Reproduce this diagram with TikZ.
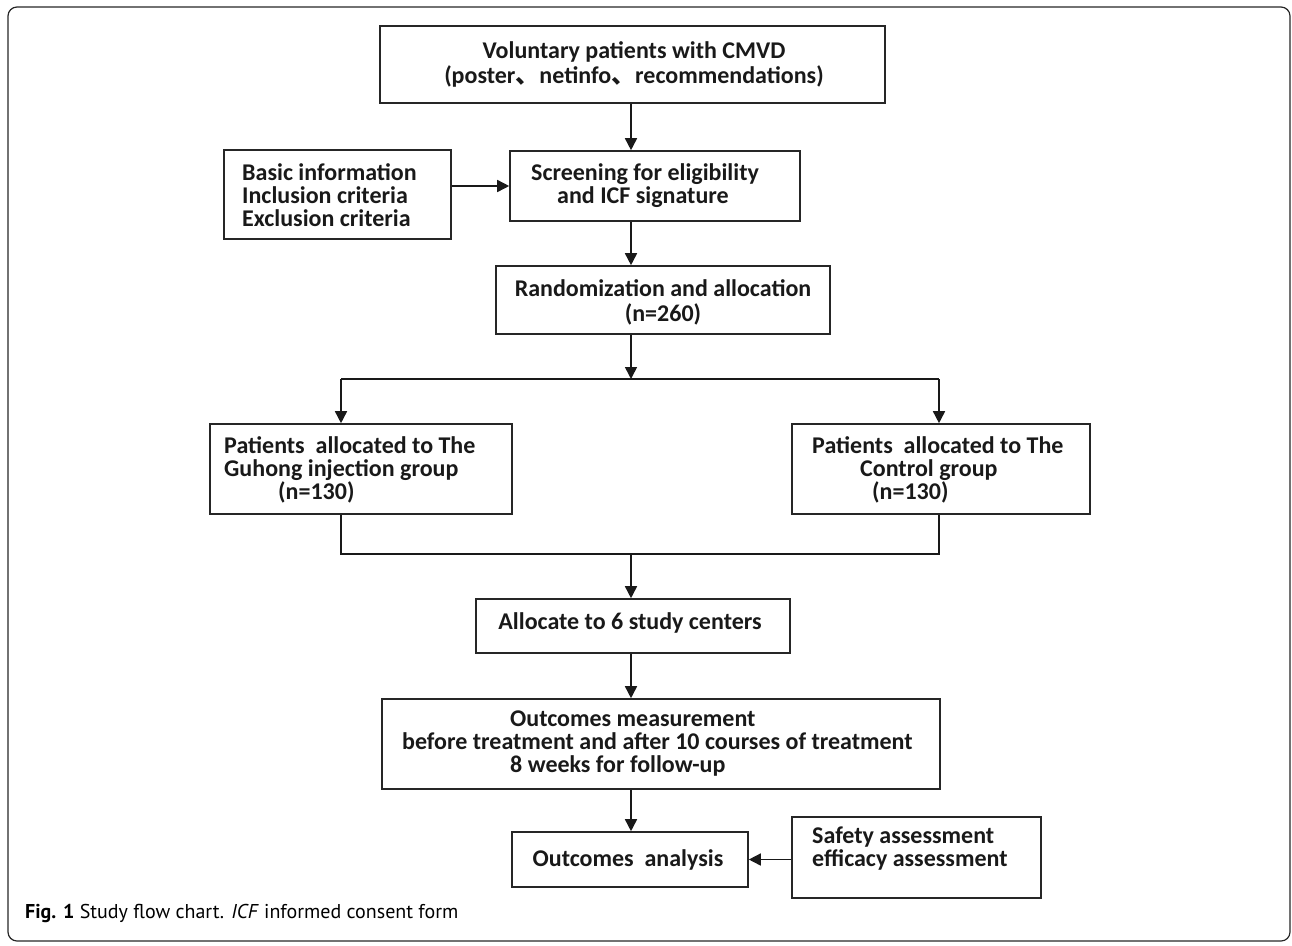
\documentclass[tikz,border=0pt]{standalone}
\usepackage{fontspec}
\setmainfont{Carlito}
\newfontfamily\capfont{PT Sans}
\newfontfamily\cjk{Noto Sans CJK SC}
\usetikzlibrary{arrows.meta}
\begin{document}
\begin{tikzpicture}[x=1pt,y=-1pt,
  box/.style={draw=black!85, line width=1.6pt, inner sep=0pt, rectangle},
  txt/.style={font=\fontsize{24}{23}\selectfont\bfseries, inner sep=0pt, text=black!90},
  arr/.style={draw=black!90, line width=1.6pt, -{Triangle[length=12pt,width=12pt]}},
  ln/.style={draw=black!90, line width=1.6pt}]
\useasboundingbox (0,0) rectangle (1292,945);
\draw[line width=1.2pt, draw=black!85, rounded corners=9pt] (8,7) rectangle (1290,941);

% axes
\coordinate (ax) at (631,0);
\coordinate (lx) at (341,0);
\coordinate (rx) at (939,0);
\coordinate (ay) at (0,186);

% boxes
\node[box, minimum width=505pt, minimum height=77pt] (b1) at (632.5,64.5) {};
\node[box, minimum width=227pt, minimum height=89pt] (basic) at (337.5,194.5) {};
\node[box, minimum width=290pt, minimum height=70pt] (scr) at (655,186) {};
\node[box, minimum width=334pt, minimum height=68pt] (rand) at (663,300) {};
\node[box, minimum width=302pt, minimum height=90pt] (lg) at (361,469) {};
\node[box, minimum width=298pt, minimum height=90pt] (rg) at (941,469) {};
\node[box, minimum width=314pt, minimum height=54pt] (alloc) at (633,626) {};
\node[box, minimum width=558pt, minimum height=90pt] (meas) at (661,744) {};
\node[box, minimum width=236pt, minimum height=55pt] (an) at (630,859.5) {};
\node[box, minimum width=249pt, minimum height=81pt] (safe) at (916.5,857.5) {};

% texts
\node[txt, align=center, font=\fontsize{24}{25}\selectfont\bfseries] (t1) at (634,64.5)
  {Voluntary patients with CMVD\\(poster{\cjk 、}netinfo{\cjk 、}recommendations)};
\node[txt, align=left, anchor=west] (tbasic) at (242,195)
  {Basic information\\Inclusion criteria\\Exclusion criteria};
\node[txt, align=left, anchor=west] (tscr) at (531,185.5)
  {Screening for eligibility\\\hspace*{26pt}and ICF signature};
\node[txt, align=center, font=\fontsize{24}{25}\selectfont\bfseries] (trand) at (663,302)
  {Randomization and allocation\\(n=260)};
\node[txt, align=left, anchor=west] (tlg) at (224,470)
  {Patients\ \ allocated to The\\Guhong injection group\\\hspace*{54pt}(n=130)};
\node[txt, align=left, anchor=west] (trg) at (812,470)
  {Patients\ \ allocated to The\\\hspace*{48pt}Control group\\\hspace*{60pt}(n=130)};
\node[txt] (talloc) at (630,623) {Allocate to 6 study centers};
\node[txt, align=left, anchor=west] (tmeas) at (402,744)
  {\hspace*{108pt}Outcomes measurement\\before treatment and after 10 courses of treatment\\\hspace*{108pt}8 weeks for follow-up};
\node[txt] (tan) at (628,860) {Outcomes\ \ analysis};
\node[txt, align=left, anchor=west] (tsafe) at (812,849)
  {Safety assessment\\efficacy assessment};

% connectors
\draw[arr] (b1.south -| ax) -- (scr.north -| ax);
\draw[arr] (basic.east |- ay) -- (scr.west |- ay);
\draw[arr] (scr.south -| ax) -- (rand.north -| ax);
\coordinate (split) at (631,379);
\draw[arr] (rand.south -| ax) -- (split);
\draw[ln] (lx |- split) -- (rx |- split);
\draw[arr] (lx |- split) -- (lg.north -| lx);
\draw[arr] (rx |- split) -- (rg.north -| rx);
\coordinate (merge) at (631,554);
\draw[ln] (lg.south -| lx) |- (merge) -| (rg.south -| rx);
\draw[arr] (merge) -- (alloc.north -| ax);
\draw[arr] (alloc.south -| ax) -- (meas.north -| ax);
\draw[arr] (meas.south -| ax) -- (an.north -| ax);
\draw[arr] (safe.west |- an.east) -- (an.east);

% caption
\node[anchor=west, inner sep=0pt, font=\capfont\fontsize{20}{22}\selectfont] (cap) at (25,913)
  {\textbf{Fig. 1} Study flow chart. \textit{ICF} informed consent form};
\end{tikzpicture}
\end{document}
